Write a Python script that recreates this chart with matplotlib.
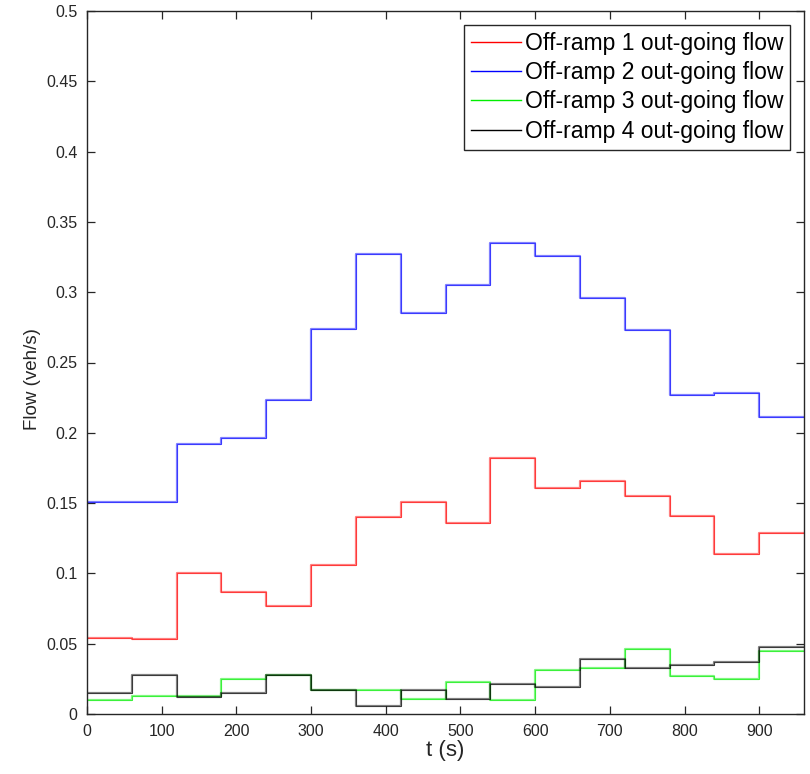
import numpy as np
import matplotlib
matplotlib.use("Agg")
import matplotlib.pyplot as plt

plt.rcParams['font.family'] = ['Liberation Sans', 'DejaVu Sans']

# Sampling instants (s) of the 60 s control intervals
t_edges = [0, 60, 120, 180, 240, 300, 360, 420, 480, 540, 600, 660, 720, 780, 840, 900, 960]

# Out-going flow per interval (veh/s)
offramp1 = [0.054, 0.053, 0.100, 0.087, 0.077, 0.106, 0.140, 0.151,
            0.136, 0.182, 0.161, 0.166, 0.155, 0.141, 0.114, 0.129]
offramp2 = [0.151, 0.151, 0.192, 0.196, 0.223, 0.274, 0.327, 0.285,
            0.305, 0.335, 0.326, 0.296, 0.273, 0.227, 0.228, 0.211]
offramp3 = [0.010, 0.013, 0.013, 0.025, 0.028, 0.017, 0.017, 0.011,
            0.023, 0.010, 0.031, 0.033, 0.046, 0.027, 0.025, 0.045]
offramp4 = [0.015, 0.028, 0.012, 0.015, 0.028, 0.017, 0.006, 0.017,
            0.011, 0.021, 0.019, 0.039, 0.033, 0.035, 0.037, 0.048]

labels = ["Off-ramp 1 out-going flow", "Off-ramp 2 out-going flow",
          "Off-ramp 3 out-going flow", "Off-ramp 4 out-going flow"]
colors = ["#ff0000", "#0000ff", "#00ee00", "#000000"]
series = [offramp1, offramp2, offramp3, offramp4]

x_ticks = [0, 100, 200, 300, 400, 500, 600, 700, 800, 900]
y_ticks = [0, 0.05, 0.1, 0.15, 0.2, 0.25, 0.3, 0.35, 0.4, 0.45, 0.5]
y_tick_labels = ["0", "0.05", "0.1", "0.15", "0.2", "0.25", "0.3", "0.35", "0.4", "0.45", "0.5"]

fig = plt.figure(figsize=(8.1, 7.74), dpi=100)
ax = fig.add_axes([87 / 810, 60 / 774, (804 - 87) / 810, (714 - 11) / 774])

for vals, c in zip(series, colors):
    y = list(vals) + [vals[-1]]
    ax.step(t_edges, y, where="post", color=c, lw=1.6, alpha=0.5)
    ax.step(t_edges, y, where="post", color=c, lw=0.7, alpha=0.55)

# legend proxies with solid colours
handles = [plt.Line2D([], [], color=c, lw=1.0) for c in colors]
leg = ax.legend(handles, labels, loc="upper right", fontsize=16.5,
                frameon=True, fancybox=False, framealpha=1,
                edgecolor="#262626", handlelength=2.2, handletextpad=0.15,
                borderpad=0.3, labelspacing=0.28, borderaxespad=0.6)
leg.get_frame().set_linewidth(1.0)

ax.set_xlim(0, 960)
ax.set_ylim(0, 0.5)
ax.set_xticks(x_ticks)
ax.set_yticks(y_ticks)
ax.set_yticklabels(y_tick_labels)
ax.tick_params(direction="in", length=6, width=0.9, top=True, right=True,
               labelsize=11.5, colors="#262626", pad=7)
for s in ax.spines.values():
    s.set_color("#262626")
    s.set_linewidth(1.0)

ax.set_xlabel("t (s)", fontsize=16, color="#262626", labelpad=1)
ax.set_ylabel("Flow (veh/s)", fontsize=13.5, color="#262626")
ax.yaxis.set_label_coords(-0.064, 0.476)

fig.savefig("out.png", dpi=100)
